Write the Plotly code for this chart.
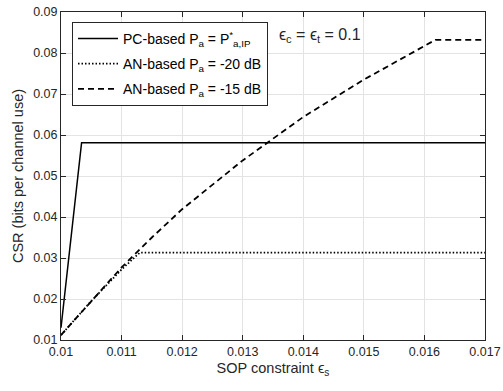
import plotly.graph_objects as go

# Data
pc_x = [0.01, 0.01034, 0.017]
pc_y = [0.0130, 0.0581, 0.0581]

an20_x = [0.01, 0.0105, 0.011, 0.0113, 0.017]
an20_y = [0.0112, 0.0195, 0.0272, 0.0313, 0.0313]

an15_x = [0.01, 0.0105, 0.011, 0.0115, 0.012, 0.013, 0.014, 0.015, 0.016, 0.01618, 0.017]
an15_y = [0.0112, 0.0195, 0.0277, 0.0350, 0.0419, 0.0538, 0.0644, 0.0735, 0.0818, 0.0832, 0.0832]

x_ticks = [0.010, 0.011, 0.012, 0.013, 0.014, 0.015, 0.016, 0.017]
x_labels = ["0.01", "0.011", "0.012", "0.013", "0.014", "0.015", "0.016", "0.017"]
y_ticks = [0.01, 0.02, 0.03, 0.04, 0.05, 0.06, 0.07, 0.08, 0.09]
y_labels = ["0.01", "0.02", "0.03", "0.04", "0.05", "0.06", "0.07", "0.08", "0.09"]

FONT = "Liberation Sans, Arial, sans-serif"
EPS = "\u03f5"

fig = go.Figure()
fig.add_trace(go.Scatter(x=pc_x, y=pc_y, mode="lines", legendgroup="a",
                         name="PC-based P<sub>a</sub> = P<sup>*</sup><sub>a,IP</sub>",
                         line=dict(color="black", width=1.5, dash="solid")))
fig.add_trace(go.Scatter(x=an20_x, y=an20_y, mode="lines", legendgroup="b",
                         name="AN-based P<sub>a</sub> = -20 dB",
                         line=dict(color="black", width=1.8, dash="1.5px,2px")))
fig.add_trace(go.Scatter(x=an15_x, y=an15_y, mode="lines", legendgroup="c",
                         name="AN-based P<sub>a</sub> = -15 dB",
                         line=dict(color="black", width=1.8, dash="6px,4px")))

axis_common = dict(
    showgrid=True, gridcolor="#e3e3e3", gridwidth=1,
    showline=True, linecolor="#262626", linewidth=1, mirror="ticks",
    ticks="inside", ticklen=5, tickcolor="#262626",
    tickfont=dict(family=FONT, size=12.5, color="#262626"),
    zeroline=False, automargin=False,
)

fig.update_xaxes(range=[0.01, 0.017], tickvals=x_ticks, ticktext=x_labels,
                 title=dict(text="SOP constraint " + EPS + "<sub>s</sub>",
                            font=dict(family=FONT, size=14.5, color="#262626"), standoff=4),
                 **axis_common)
fig.update_yaxes(range=[0.01, 0.09], tickvals=y_ticks, ticktext=y_labels,
                 title=dict(text="CSR (bits per channel use)",
                            font=dict(family=FONT, size=14.5, color="#262626"), standoff=6),
                 **axis_common)

fig.add_annotation(x=0.01428, y=0.0843, xref="x", yref="y",
                   text=EPS + "<sub>c</sub> = " + EPS + "<sub>t</sub> = 0.1",
                   showarrow=False, font=dict(family=FONT, size=16, color="#262626"))

fig.update_layout(
    width=503, height=391,
    margin=dict(l=61, r=18, t=12, b=51),
    paper_bgcolor="white", plot_bgcolor="white",
    showlegend=True,
    legend=dict(x=0.026, y=0.97, xanchor="left", yanchor="top",
                bgcolor="white", bordercolor="#262626", borderwidth=1,
                font=dict(family=FONT, size=14, color="black"),
                itemwidth=40, tracegroupgap=4),
)

fig.write_html("out.html")
